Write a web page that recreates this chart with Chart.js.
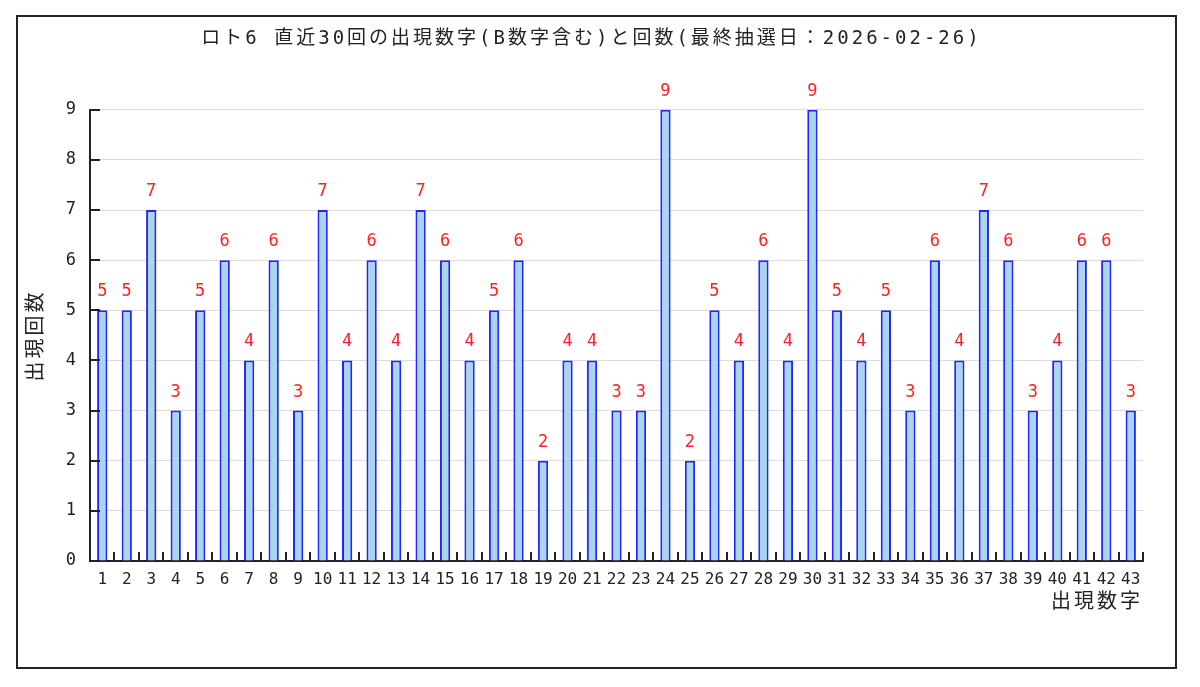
<!DOCTYPE html>
<html>
<head>
<meta charset="utf-8">
<script src="https://cdn.jsdelivr.net/npm/chart.js@4"></script>
<style>
  html, body { margin: 0; padding: 0; background: #fff; }
  #wrap { position: relative; width: 1200px; height: 687px; }
  #frame { position: absolute; left: 16px; top: 15px; width: 1157px; height: 650px; border: 2px solid #222; }
  canvas { position: absolute; left: 0; top: 0; }
</style>
</head>
<body>
<div id="wrap">
  <div id="frame"></div>
  <canvas id="mychart" width="1200" height="687"></canvas>
</div>
<script>
const numbers = [];
for (let i = 1; i <= 43; i++) numbers.push(String(i));

const counts = [5, 5, 7, 3, 5, 6, 4, 6, 3, 7,
                4, 6, 4, 7, 6, 4, 5, 6, 2, 4,
                4, 3, 3, 9, 2, 5, 4, 6, 4, 9,
                5, 4, 5, 3, 6, 4, 7, 6, 3, 4,
                6, 6, 3];

const yTicks = [0, 1, 2, 3, 4, 5, 6, 7, 8, 9];

const titleText = 'ロト6 直近30回の出現数字(B数字含む)と回数(最終抽選日：2026-02-26)';
const mono = '"DejaVu Sans Mono", "Noto Sans CJK JP", monospace';

// wide pitch for the titles only; tick labels (z:1) are drawn after the reset
const spacing = {
  id: 'spacing',
  beforeDraw(chart) { chart.ctx.letterSpacing = '3px'; },
  beforeDatasetsDraw(chart) { chart.ctx.letterSpacing = '0px'; },
  afterDraw(chart) { chart.ctx.letterSpacing = '0px'; }
};

// short inward ticks on both axes
const innerTicks = {
  id: 'innerTicks',
  afterDatasetsDraw(chart) {
    const {ctx, chartArea, scales} = chart;
    ctx.save();
    ctx.strokeStyle = '#222';
    ctx.lineWidth = 2;
    ctx.beginPath();
    yTicks.forEach(v => {
      const y = Math.round(scales.y.getPixelForValue(v));
      ctx.moveTo(chartArea.left, y);
      ctx.lineTo(chartArea.left + 10, y);
    });
    for (let i = 1; i <= numbers.length; i++) {
      const x = Math.round(scales.x.getPixelForValue(i - 0.5));
      ctx.moveTo(x, chartArea.bottom);
      ctx.lineTo(x, chartArea.bottom - 9);
    }
    ctx.stroke();
    ctx.restore();
  }
};

// red counts above each bar
const valueLabels = {
  id: 'valueLabels',
  afterDatasetsDraw(chart) {
    const {ctx} = chart;
    const meta = chart.getDatasetMeta(0);
    ctx.save();
    ctx.fillStyle = '#ff2020';
    ctx.font = '17px ' + mono;
    ctx.textAlign = 'center';
    ctx.textBaseline = 'bottom';
    meta.data.forEach((bar, i) => {
      ctx.fillText(String(counts[i]), bar.x, bar.y - 10);
    });
    ctx.restore();
  }
};

const ctx = document.getElementById('mychart').getContext('2d');
let mychart = new Chart(ctx, {
  type: 'bar',
  data: {
    labels: numbers,
    datasets: [{
      data: counts,
      backgroundColor: '#a9d6ec',
      borderColor: '#2424ff',
      borderWidth: 2,
      barPercentage: 0.42,
      categoryPercentage: 1
    }]
  },
  options: {
    responsive: false,
    animation: false,
    layout: { padding: { left: 40, right: 57, top: 0, bottom: 0 } },
    plugins: {
      legend: { display: false },
      tooltip: { enabled: false },
      title: {
        display: true,
        text: titleText,
        color: '#222',
        font: { family: mono, size: 19, weight: 'normal' },
        padding: { top: 28, bottom: 59 }
      }
    },
    scales: {
      x: {
        offset: true,
        grid: { display: false, drawTicks: false },
        border: { color: '#222', width: 2 },
        ticks: {
          z: 1,
          color: '#222',
          font: { family: mono, size: 16 },
          padding: 9,
          maxRotation: 0,
          autoSkip: false
        },
        title: {
          display: true,
          text: '出現数字',
          align: 'end',
          color: '#222',
          font: { family: mono, size: 20 },
          padding: { top: 0, bottom: 72 }
        },
        afterFit(scale) { scale.height = 126; }
      },
      y: {
        min: 0,
        max: 9,
        grid: { color: '#dcdcdc', lineWidth: 1, drawTicks: false },
        border: { color: '#222', width: 2 },
        ticks: {
          z: 1,
          stepSize: 1,
          color: '#222',
          font: { family: mono, size: 17 },
          padding: 14
        },
        title: {
          display: true,
          text: '出現回数',
          color: '#222',
          font: { family: mono, size: 20 },
          padding: { top: -15, bottom: 0 }
        },
        afterFit(scale) { scale.width = 50; }
      }
    }
  },
  plugins: [spacing, innerTicks, valueLabels]
});
</script>
</body>
</html>
